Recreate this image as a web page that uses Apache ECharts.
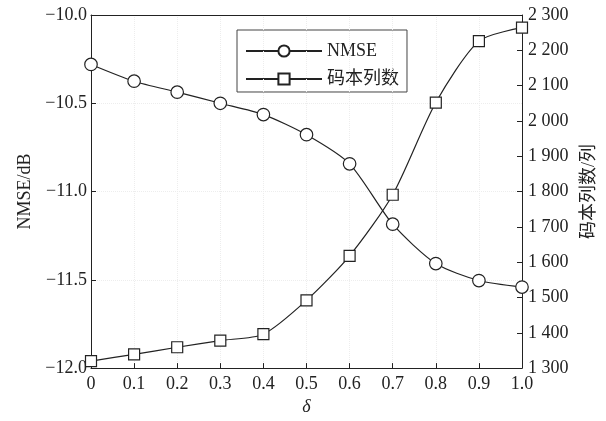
<!DOCTYPE html>
<html>
<head>
<meta charset="utf-8">
<script src="https://cdn.jsdelivr.net/npm/echarts@6/dist/echarts.min.js"></script>
<style>
html,body{margin:0;padding:0;background:#fff;}
#c{width:606px;height:421px;}
</style>
</head>
<body>
<div id="c"></div>
<script>
const deltas = [0, 0.1, 0.2, 0.3, 0.4, 0.5, 0.6, 0.7, 0.8, 0.9, 1.0];
const nmse = [-10.28, -10.375, -10.437, -10.50, -10.564, -10.678, -10.843, -11.185, -11.408, -11.504, -11.541];
const columns = [1320, 1339, 1359, 1378, 1396, 1492, 1618, 1791, 2052, 2226, 2264];
const seriesNames = ['NMSE', '码本列数'];
const leftAxisName = 'NMSE/dB';
const rightAxisName = '码本列数/列';
const xAxisName = 'δ';

const FONT = "'Liberation Serif', 'Times New Roman', 'Noto Sans CJK SC', serif";
const INK = '#222';

const chart = echarts.init(document.getElementById('c'), null, {renderer: 'canvas'});

const fmtLeft = v => v.toFixed(1).replace('-', '\u2212');
const fmtRight = v => String(Math.round(v)).replace(/\B(?=(\d{3})+(?!\d))/g, ' ');
const fmtX = v => (Math.abs(v) < 1e-9 ? '0' : v.toFixed(1));

chart.setOption({
  animation: false,
  backgroundColor: '#fff',
  textStyle: {fontFamily: FONT},
  grid: {left: 91, right: 84, top: 15, bottom: 50, show: false},
  legend: {
    orient: 'vertical',
    left: 237, top: 30,
    padding: [12, 8, 4, 8],
    itemWidth: 76, itemHeight: 14, itemGap: 10,
    borderColor: '#444', borderWidth: 1, backgroundColor: '#fff',
    textStyle: {fontFamily: FONT, fontSize: 18, color: INK},
    data: seriesNames
  },
  xAxis: [
    {
      type: 'value', min: 0, max: 1, interval: 0.1, position: 'bottom',
      name: xAxisName, nameLocation: 'middle', nameGap: 29,
      nameTextStyle: {fontFamily: FONT, fontSize: 18, fontStyle: 'italic', color: INK},
      axisLine: {show: true, lineStyle: {color: INK, width: 1}},
      axisTick: {show: true, inside: true, length: 5, lineStyle: {color: INK}},
      axisLabel: {formatter: fmtX, fontFamily: FONT, fontSize: 18, color: INK, margin: 7},
      splitLine: {show: true, lineStyle: {color: '#ededed', type: 'dotted', width: 1}},
      z: 5
    },
    {
      type: 'value', min: 0, max: 1, interval: 0.1, position: 'top',
      axisLine: {show: true, onZero: false, lineStyle: {color: INK, width: 1}},
      axisTick: {show: false}, axisLabel: {show: false}, splitLine: {show: false},
      z: 5
    }
  ],
  yAxis: [
    {
      type: 'value', min: -12, max: -10, interval: 0.5, position: 'left',
      name: leftAxisName, nameLocation: 'middle', nameGap: 57, nameRotate: 90,
      nameTextStyle: {fontFamily: FONT, fontSize: 18, color: INK},
      axisLine: {show: true, onZero: false, lineStyle: {color: INK, width: 1}},
      axisTick: {show: true, inside: true, length: 5, lineStyle: {color: INK}},
      axisLabel: {formatter: fmtLeft, fontFamily: FONT, fontSize: 18, color: INK, margin: 4},
      splitLine: {show: true, lineStyle: {color: '#ededed', type: 'dotted', width: 1}},
      z: 5
    },
    {
      type: 'value', min: 1300, max: 2300, interval: 100, position: 'right',
      name: rightAxisName, nameLocation: 'middle', nameGap: 58, nameRotate: 90,
      nameTextStyle: {fontFamily: FONT, fontSize: 18, color: INK},
      axisLine: {show: true, onZero: false, lineStyle: {color: INK, width: 1}},
      axisTick: {show: true, inside: true, length: 5, lineStyle: {color: INK}},
      axisLabel: {formatter: fmtRight, fontFamily: FONT, fontSize: 18, color: INK, margin: 6},
      splitLine: {show: false},
      z: 5
    }
  ],
  series: [
    {
      name: seriesNames[0], type: 'line', xAxisIndex: 0, yAxisIndex: 0,
      data: deltas.map((d, i) => [d, nmse[i]]),
      symbol: 'circle', symbolSize: 12.5, smooth: 0.25,
      clip: false,
      lineStyle: {color: INK, width: 1.2},
      itemStyle: {color: '#fff', borderColor: INK, borderWidth: 1.2},
      z: 6
    },
    {
      name: seriesNames[1], type: 'line', xAxisIndex: 0, yAxisIndex: 1,
      data: deltas.map((d, i) => [d, columns[i]]),
      symbol: 'rect', symbolSize: 11, smooth: 0.25,
      clip: false,
      lineStyle: {color: INK, width: 1.2},
      itemStyle: {color: '#fff', borderColor: INK, borderWidth: 1.2},
      z: 6
    }
  ]
});
</script>
</body>
</html>
